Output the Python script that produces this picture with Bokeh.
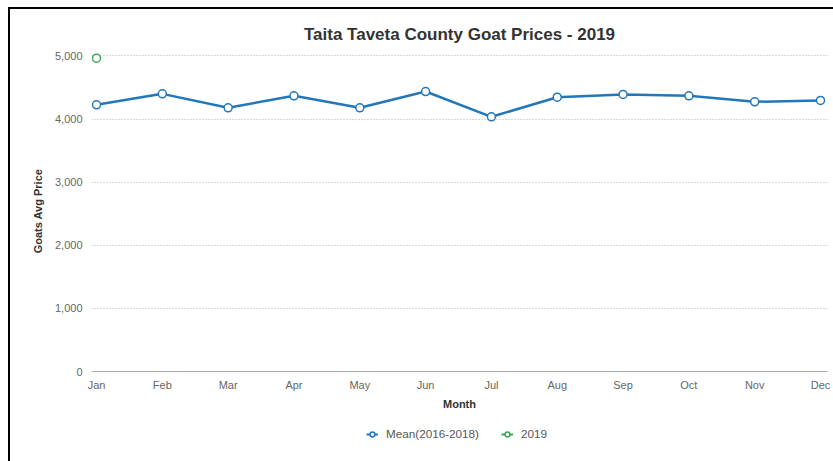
from bokeh.plotting import figure
from bokeh.layouts import column
from bokeh.models import (Range1d, FixedTicker, NumeralTickFormatter, Legend, LegendItem,
                          ColumnDataSource)
from bokeh.embed import file_html
from bokeh.resources import INLINE

months = ["Jan", "Feb", "Mar", "Apr", "May", "Jun", "Jul", "Aug", "Sep", "Oct", "Nov", "Dec"]
mean_2016_2018 = [4227, 4400, 4179, 4369, 4179, 4437, 4036, 4347, 4390, 4369, 4274, 4295]
months_2019 = ["Jan"]
prices_2019 = [4965]
y_ticks = [0, 1000, 2000, 3000, 4000, 5000]
series_names = ["Mean(2016-2018)", "2019"]

FONT = "Liberation Sans"
BLUE = "#2277bb"
GREEN = "#3aa757"

x_mean = [months.index(m) for m in months]
x_2019 = [months.index(m) for m in months_2019]
src_mean = ColumnDataSource(dict(x=x_mean, y=mean_2016_2018))
src_2019 = ColumnDataSource(dict(x=x_2019, y=prices_2019))

p = figure(width=823, height=411, output_backend="svg", toolbar_location=None,
           x_range=Range1d(-0.076, 11.106), y_range=Range1d(0, 5087),
           min_border_left=81, min_border_right=6, min_border_top=41, min_border_bottom=49)
p.outline_line_color = None
p.background_fill_color = "white"
p.border_fill_color = "white"

# title
p.title.text = "Taita Taveta County Goat Prices - 2019"
p.title.align = "center"
p.title.text_font = FONT
p.title.text_font_size = "17px"
p.title.text_font_style = "bold"
p.title.text_color = "#333333"
p.title.standoff = 14

# x axis
p.xaxis.ticker = FixedTicker(ticks=x_mean)
p.xaxis.major_label_overrides = {i: m for i, m in enumerate(months)}
p.xaxis.major_tick_out = 0
p.xaxis.major_tick_in = 0
p.xaxis.minor_tick_out = 0
p.xaxis.minor_tick_in = 0
p.xaxis.axis_line_color = "#aaaaaa"
p.xaxis.axis_line_width = 1
p.xaxis.major_label_text_font = FONT
p.xaxis.major_label_text_font_size = "11px"
p.xaxis.major_label_text_color = "#666666"
p.xaxis.major_label_standoff = 7
p.xaxis.axis_label = "Month"
p.xaxis.axis_label_text_font = FONT
p.xaxis.axis_label_text_font_size = "11px"
p.xaxis.axis_label_text_font_style = "bold"
p.xaxis.axis_label_text_color = "#333333"
p.xaxis.axis_label_standoff = 4

# y axis
p.yaxis.ticker = FixedTicker(ticks=y_ticks)
p.yaxis.formatter = NumeralTickFormatter(format="0,0")
p.yaxis.axis_line_color = None
p.yaxis.major_tick_out = 0
p.yaxis.major_tick_in = 0
p.yaxis.minor_tick_out = 0
p.yaxis.minor_tick_in = 0
p.yaxis.major_label_text_font = FONT
p.yaxis.major_label_text_font_size = "11px"
p.yaxis.major_label_text_color = "#666666"
p.yaxis.major_label_standoff = 9
p.yaxis.axis_label = "Goats Avg Price"
p.yaxis.axis_label_text_font = FONT
p.yaxis.axis_label_text_font_size = "11px"
p.yaxis.axis_label_text_font_style = "bold"
p.yaxis.axis_label_text_color = "#333333"
p.yaxis.axis_label_standoff = 8

p.xgrid.grid_line_color = None
p.ygrid.grid_line_color = "#b0b0b0"
p.ygrid.grid_line_dash = "1 2"
p.ygrid.grid_line_width = 1

# series
p.line("x", "y", source=src_mean, line_color=BLUE, line_width=2.5)
p.scatter("x", "y", source=src_mean, size=8, marker="circle",
          fill_color="white", line_color=BLUE, line_width=1.5)
p.scatter("x", "y", source=src_2019, size=8, marker="circle",
          fill_color="white", line_color=GREEN, line_width=1.5)

# legend strip (its renderers use the same sources, but fall outside its ranges)
p2 = figure(width=823, height=41, output_backend="svg", toolbar_location=None,
            x_range=Range1d(-100, -99), y_range=Range1d(-100, -99),
            min_border_left=0, min_border_right=0, min_border_top=0, min_border_bottom=0)
p2.axis.visible = False
p2.grid.grid_line_color = None
p2.outline_line_color = None
lg1 = p2.line("x", "y", source=src_mean, line_color=BLUE, line_width=2)
lc1 = p2.scatter("x", "y", source=src_mean, size=8, marker="circle", fill_color="white",
                 line_color=BLUE, line_width=1.5)
lg2 = p2.line("x", "y", source=src_2019, line_color=GREEN, line_width=2)
lc2 = p2.scatter("x", "y", source=src_2019, size=8, marker="circle", fill_color="white",
                 line_color=GREEN, line_width=1.5)
legend = Legend(items=[LegendItem(label=series_names[0], renderers=[lg1, lc1]),
                       LegendItem(label=series_names[1], renderers=[lg2, lc2])],
                orientation="horizontal", location=(275, 21),
                label_text_font=FONT, label_text_font_size="11.7px",
                label_text_color="#555555", glyph_width=12, glyph_height=12,
                spacing=22, label_standoff=8, border_line_color=None,
                background_fill_alpha=0, margin=0, padding=0)
p2.add_layout(legend)

layout = column(p, p2, spacing=0, margin=(7, 0, 0, 8),
                styles={"border-left": "2px solid black", "border-top": "2px solid black"})

open("out.html", "w").write(file_html(layout, INLINE))
